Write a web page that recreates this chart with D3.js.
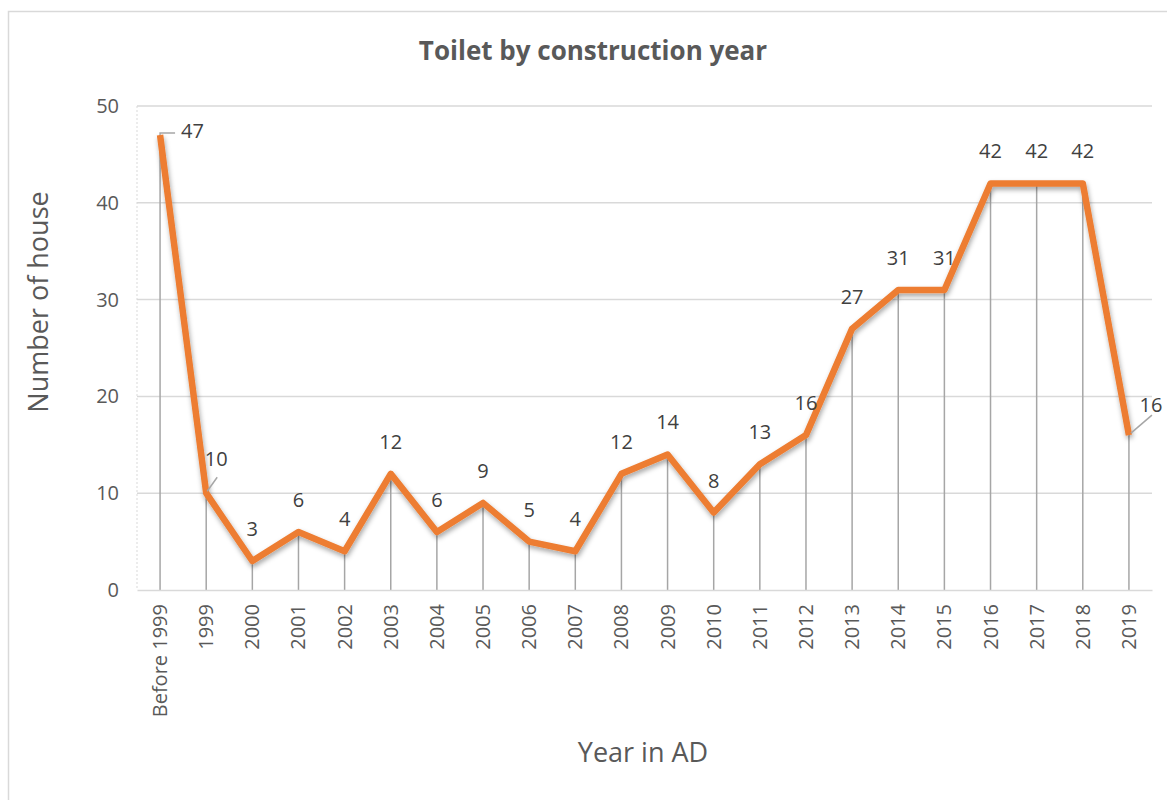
<!DOCTYPE html>
<html lang="en">
<head>
	<meta charset="UTF-8">
	<title>Toilet by construction year</title>
	<script src="https://cdn.jsdelivr.net/npm/d3@7/dist/d3.min.js"></script>
	<style>
		body { margin: 0; background: #fff; }
		text { font-family: "Open Sans", "Noto Sans", sans-serif; }
	</style>
</head>
<body>
	<svg id="viz"></svg>
	<script>
		// Data ---
		const years = ['Before 1999', '1999', '2000', '2001', '2002', '2003', '2004', '2005', '2006', '2007',
			'2008', '2009', '2010', '2011', '2012', '2013', '2014', '2015', '2016', '2017', '2018', '2019'];
		const houses = [47, 10, 3, 6, 4, 12, 6, 9, 5, 4, 12, 14, 8, 13, 16, 27, 31, 31, 42, 42, 42, 16];
		const yTicks = [0, 10, 20, 30, 40, 50];

		// Dimensions ---
		const svgWidth = 1167, svgHeight = 800;
		const plot = { left: 137, right: 1152, top: 106, bottom: 590 };

		const svg = d3.select('#viz')
			.attr('width', svgWidth)
			.attr('height', svgHeight);

		// shadow under the line
		const defs = svg.append('defs');
		const shadow = defs.append('filter').attr('id', 'shadow')
			.attr('x', '-10%').attr('y', '-10%').attr('width', '120%').attr('height', '130%');
		shadow.append('feDropShadow')
			.attr('dx', 1).attr('dy', 3).attr('stdDeviation', 2.5)
			.attr('flood-color', '#000').attr('flood-opacity', 0.35);

		// chart frame
		svg.append('rect')
			.attr('x', 8.5).attr('y', 11.5)
			.attr('width', 1170).attr('height', 800)
			.attr('fill', 'none').attr('stroke', '#d9d9d9').attr('stroke-width', 1.5);

		// Scales ---
		const x = d3.scaleBand().domain(years).range([plot.left, plot.right]);
		const y = d3.scaleLinear().domain([0, 50]).range([plot.bottom, plot.top]);
		const cx = d => x(d) + x.bandwidth() / 2;

		// Gridlines ---
		svg.append('g')
			.selectAll('line')
			.data(yTicks.filter(t => t > 0))
			.join('line')
			.attr('x1', plot.left).attr('x2', plot.right)
			.attr('y1', d => y(d)).attr('y2', d => y(d))
			.attr('stroke', '#d9d9d9').attr('stroke-width', 1.5);

		// dotted left edge
		svg.append('line')
			.attr('x1', plot.left).attr('x2', plot.left)
			.attr('y1', plot.top).attr('y2', plot.bottom)
			.attr('stroke', '#d9d9d9').attr('stroke-width', 1)
			.attr('stroke-dasharray', '2 2');

		// Y axis ---
		const yAxis = svg.append('g')
			.attr('transform', `translate(${plot.left},0)`)
			.call(d3.axisLeft(y).tickValues(yTicks).tickSize(0).tickPadding(18));
		yAxis.select('.domain').remove();
		yAxis.selectAll('text')
			.attr('font-size', 20).attr('fill', '#595959')
			.style('font-family', '"Open Sans", sans-serif');

		// Drop lines ---
		svg.append('g')
			.selectAll('line')
			.data(years)
			.join('line')
			.attr('x1', d => cx(d)).attr('x2', d => cx(d))
			.attr('y1', (d, i) => y(houses[i])).attr('y2', plot.bottom)
			.attr('stroke', '#a6a6a6').attr('stroke-width', 1.5);

		// X axis ---
		const xAxis = svg.append('g')
			.attr('transform', `translate(0,${plot.bottom})`)
			.call(d3.axisBottom(x).tickSize(0).tickPadding(0));
		xAxis.select('.domain')
			.attr('stroke', '#d9d9d9').attr('stroke-width', 1.5);
		xAxis.selectAll('text')
			.attr('font-size', 20).attr('fill', '#595959')
			.attr('text-anchor', 'end')
			.attr('dy', '0.35em')
			.attr('transform', 'translate(0,14) rotate(-90)')
			.style('font-family', '"Open Sans", sans-serif');

		// Line ---
		const line = d3.line()
			.x((d, i) => cx(years[i]))
			.y(d => y(d));
		svg.append('path')
			.datum(houses)
			.attr('d', line)
			.attr('fill', 'none')
			.attr('stroke', '#ed7d31')
			.attr('stroke-width', 6.5)
			.attr('stroke-linejoin', 'round')
			.attr('filter', 'url(#shadow)');

		// Data labels ---
		// some labels are pushed aside by Excel and get a leader line
		const labelShift = { 0: [21, -4], 1: [10, -34], 21: [22, -30] };
		const labels = svg.append('g');
		houses.forEach((v, i) => {
			const px = cx(years[i]), py = y(v);
			const s = labelShift[i];
			if (s) {
				const lx = px + s[0], ly = py + s[1];
				labels.append('text')
					.attr('x', lx).attr('y', ly + 7)
					.attr('text-anchor', i === 0 ? 'start' : 'middle')
					.attr('font-size', 20).attr('fill', '#404040')
					.text(v);
				let pts;
				if (i === 0) pts = [[px, py], [px, py - 2], [px + 15, py - 2]];
				else if (i === 1) pts = [[px + 1, py - 2], [px + 11, py - 16]];
				else pts = [[px + 2, py - 2], [px + 23, py - 20]];
				labels.append('path')
					.attr('d', d3.line()(pts))
					.attr('fill', 'none').attr('stroke', '#a6a6a6').attr('stroke-width', 1.5);
			} else {
				labels.append('text')
					.attr('x', px).attr('y', py - 25)
					.attr('text-anchor', 'middle')
					.attr('font-size', 20).attr('fill', '#404040')
					.text(v);
			}
		});

		// Titles ---
		svg.append('text')
			.attr('x', 593).attr('y', 60)
			.attr('text-anchor', 'middle')
			.attr('font-size', 26).attr('font-weight', 'bold').attr('fill', '#595959')
			.text('Toilet by construction year');

		svg.append('text')
			.attr('transform', `translate(48,302) rotate(-90)`)
			.attr('text-anchor', 'middle')
			.attr('font-size', 27).attr('fill', '#595959')
			.text('Number of house');

		svg.append('text')
			.attr('x', 643).attr('y', 762)
			.attr('text-anchor', 'middle')
			.attr('font-size', 27).attr('fill', '#595959')
			.text('Year in AD');
	</script>
</body>
</html>
